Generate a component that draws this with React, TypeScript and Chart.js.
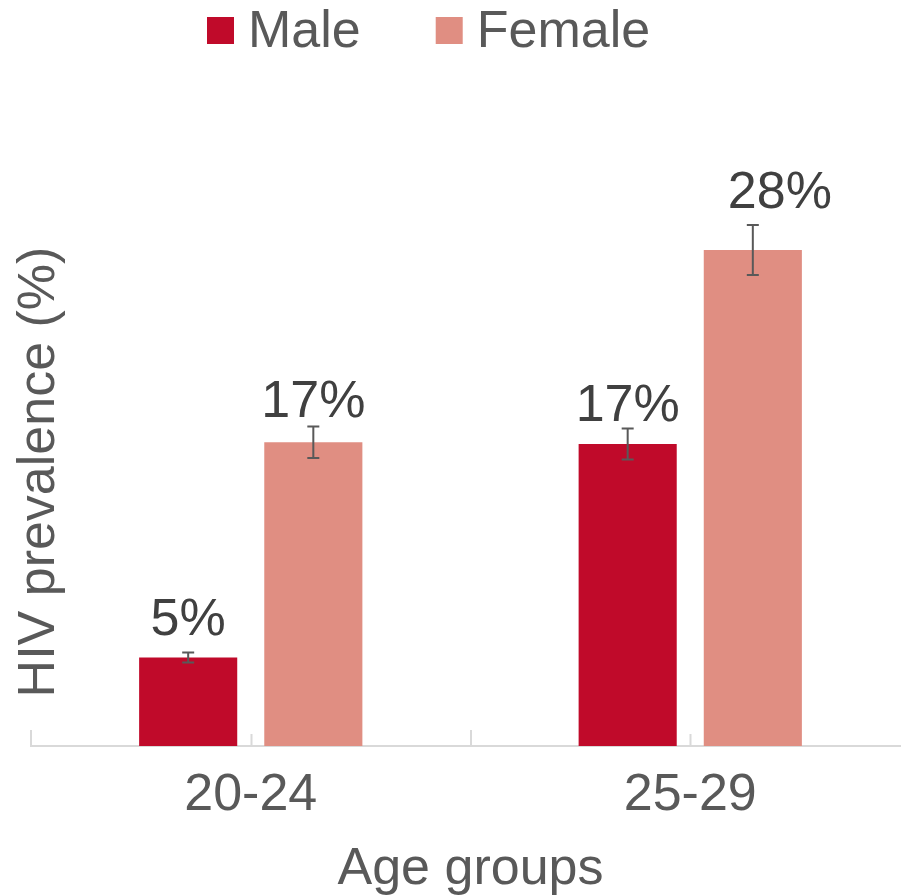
import React, { useEffect, useRef } from "react";
import { Chart, registerables } from "chart.js";

Chart.register(...registerables);

const categories = ["20-24", "25-29"];
const seriesNames = ["Male", "Female"];
const maleValues = [5.0, 17.05];
const femaleValues = [17.15, 28.0];
const maleErrors = [0.28, 0.88];
const femaleErrors = [0.89, 1.41];
const maleLabels = ["5%", "17%"];
const femaleLabels = ["17%", "28%"];
const yTitle = "HIV prevalence (%)";
const xTitle = "Age groups";

const FONT = "'Liberation Sans', Arial, sans-serif";
const MALE = "#C00A2A";
const FEMALE = "#E08E82";
const TEXT = "#595959";
const LABEL = "#404040";
const AXIS = "#D9D9D9";

const errorsBySeries = [maleErrors, femaleErrors];
const labelsBySeries = [maleLabels, femaleLabels];

const decorPlugin = {
  id: "decor",
  afterDatasetsDraw(chart: any, _args: any, opts: any) {
    const ctx = chart.ctx;
    const y = chart.scales.y;
    const x = chart.scales.x;
    ctx.save();
    ctx.strokeStyle = AXIS;
    ctx.lineWidth = 2;
    const base = chart.chartArea.bottom;
    x.ticks.forEach((_t: any, i: number) => {
      const px = Math.round(x.getPixelForTick(i)) + 0.5;
      ctx.beginPath();
      ctx.moveTo(px, base);
      ctx.lineTo(px, base - opts.minorTick);
      ctx.stroke();
    });
    chart.data.datasets.forEach((ds: any, di: number) => {
      const meta = chart.getDatasetMeta(di);
      meta.data.forEach((el: any, i: number) => {
        const v = ds.data[i];
        const e = errorsBySeries[di][i];
        const top = y.getPixelForValue(v + e);
        const bot = y.getPixelForValue(v - e);
        ctx.strokeStyle = TEXT;
        ctx.lineWidth = 2;
        ctx.beginPath();
        ctx.moveTo(el.x, top);
        ctx.lineTo(el.x, bot);
        ctx.moveTo(el.x - 6, top);
        ctx.lineTo(el.x + 6, top);
        ctx.moveTo(el.x - 6, bot);
        ctx.lineTo(el.x + 6, bot);
        ctx.stroke();
        const [dx, dy] = opts.labelOffsets[di][i];
        ctx.fillStyle = LABEL;
        ctx.font = `52px ${FONT}`;
        ctx.textAlign = "center";
        ctx.textBaseline = "alphabetic";
        ctx.fillText(labelsBySeries[di][i], el.x + dx, el.y - dy);
      });
    });
    ctx.restore();
  },
  afterDraw(chart: any, _args: any, opts: any) {
    const ctx = chart.ctx;
    ctx.save();
    ctx.font = `52px ${FONT}`;
    ctx.textBaseline = "alphabetic";
    ctx.textAlign = "left";
    let lx = opts.legendX;
    chart.data.datasets.forEach((ds: any) => {
      ctx.fillStyle = ds.backgroundColor;
      ctx.fillRect(lx, opts.legendBoxTop, 27, 27);
      ctx.fillStyle = TEXT;
      const tx = lx + 41;
      ctx.fillText(ds.label, tx, opts.legendBaseline);
      lx = tx + ctx.measureText(ds.label).width + 75;
    });
    ctx.translate(opts.yTitleX, opts.yTitleY);
    ctx.rotate(-Math.PI / 2);
    ctx.textAlign = "center";
    ctx.fillStyle = TEXT;
    ctx.fillText(yTitle, 0, 0);
    ctx.restore();
  },
};

export default function App() {
  const ref = useRef<HTMLCanvasElement | null>(null);
  useEffect(() => {
    if (!ref.current) return;
    const chart = new Chart(ref.current, {
      type: "bar",
      data: {
        labels: categories,
        datasets: [
          { label: seriesNames[0], data: maleValues, backgroundColor: MALE, borderWidth: 0 },
          { label: seriesNames[1], data: femaleValues, backgroundColor: FEMALE, borderWidth: 0 },
        ],
      },
      options: {
        animation: false,
        responsive: true,
        maintainAspectRatio: false,
        devicePixelRatio: 1,
        categoryPercentage: 0.5695,
        barPercentage: 0.784,
        layout: { padding: { top: 126, left: 31, right: 0, bottom: 0 } },
        plugins: {
          legend: { display: false },
          tooltip: { enabled: false },
          decor: {
            minorTick: 12,
            labelOffsets: [
              [
                [0, 22],
                [0, 23],
              ],
              [
                [0, 25],
                [27, 42],
              ],
            ],
            legendX: 207,
            legendBoxTop: 17,
            legendBaseline: 47,
            yTitleX: 54,
            yTitleY: 472,
          },
        } as any,
        scales: {
          x: {
            grid: {
              offset: true,
              drawOnChartArea: false,
              drawTicks: true,
              tickLength: -16,
              color: AXIS,
              lineWidth: 2,
            },
            border: { display: true, color: AXIS, width: 2 },
            ticks: {
              color: TEXT,
              font: { family: FONT, size: 52 },
              padding: 34.5,
              maxRotation: 0,
            },
            title: {
              display: true,
              text: xTitle,
              color: TEXT,
              font: { family: FONT, size: 52 },
              padding: { top: -22.8, bottom: -5 },
            },
          },
          y: {
            display: false,
            min: 0,
            max: 35,
          },
        },
      },
      plugins: [decorPlugin],
    });
    return () => chart.destroy();
  }, []);
  return (
    <div style={{ position: "absolute", left: 0, top: 0, width: 901, height: 896, overflow: "hidden", background: "#fff" }}>
      <div style={{ position: "relative", width: 910, height: 896 }}>
        <canvas ref={ref} />
      </div>
    </div>
  );
}
